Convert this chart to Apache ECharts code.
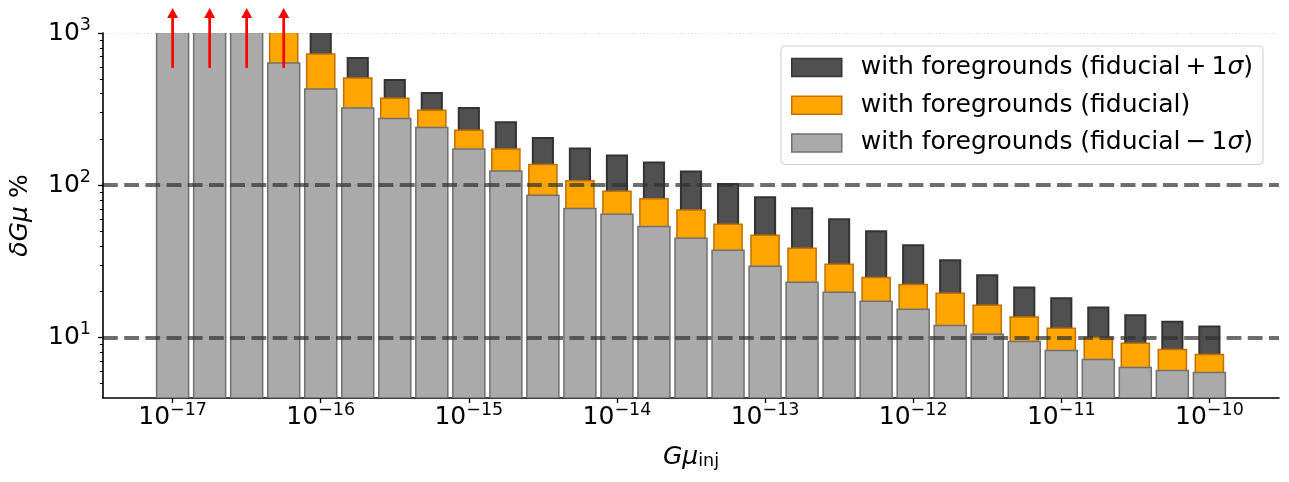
<!DOCTYPE html>
<html>
<head>
<meta charset="utf-8">
<script src="https://cdn.jsdelivr.net/npm/echarts@6/dist/echarts.min.js"></script>
<style>
html, body { margin: 0; padding: 0; background: #fff; }
#chart { width: 1289px; height: 482px; }
</style>
</head>
<body>
<div id="chart"></div>
<script>
// log10(G mu_inj) of each bar group
const gmuExp = [-17, -16.75, -16.5, -16.25, -16, -15.75, -15.5, -15.25, -15, -14.75,
  -14.5, -14.25, -14, -13.75, -13.5, -13.25, -13, -12.75, -12.5, -12.25,
  -12, -11.75, -11.5, -11.25, -11, -10.75, -10.5, -10.25, -10]

// delta G mu in %, the first bars run off the top
const plusSigma = [2400, 2200, 2000, 1600, 1050, 685, 491, 403, 321, 259,
  204, 174, 157, 141, 123, 102, 83.4, 70.6, 59.7, 49.8,
  40.3, 32.1, 25.6, 21.3, 18.1, 15.7, 14.0, 12.7, 11.8]
const fiducial = [1900, 1700, 1500, 1100, 728, 506, 373, 311, 230, 173,
  137, 107, 91.4, 81.6, 68.7, 55.4, 46.9, 38.5, 30.2, 24.8,
  22.3, 19.5, 16.3, 13.6, 11.5, 10.0, 9.14, 8.34, 7.73]
const minusSigma = [1500, 1300, 1150, 635, 428, 321, 274, 239, 173, 124,
  86, 70.2, 64.4, 53.5, 44.8, 37.4, 29.3, 23.0, 19.8, 17.3,
  15.3, 12.0, 10.5, 9.42, 8.20, 7.16, 6.35, 6.07, 5.89]

// red arrows on the bars that leave the plot
const arrowExp = [-17, -16.75, -16.5, -16.25]
const arrowFrom = [590, 590, 590, 590]
const arrowTo = [1460, 1460, 1460, 1460]

const xTicks = [-17, -16, -15, -14, -13, -12, -11, -10]
const yMinorTicks = [5, 6, 7, 8, 9, 20, 30, 40, 50, 60, 70, 80, 90,
  200, 300, 400, 500, 600, 700, 800, 900]
const refLines = [100, 10]

const names = [
  'with foregrounds (fiducial\u2009+\u20091σ)',
  'with foregrounds (fiducial)',
  'with foregrounds (fiducial\u2009−\u20091σ)'
]

const FONT = 'DejaVu Sans'
const supRich = {
  b: { fontFamily: FONT, fontSize: 25, lineHeight: 33, color: '#000' },
  s: { fontFamily: FONT, fontSize: 17.5, lineHeight: 17.5, color: '#000', verticalAlign: 'top' }
}

// bar drawn from the bottom of the grid up to the value
function barItem(half, fill, stroke, lw) {
  return function (params, api) {
    const x = api.value(0)
    const v = api.value(1)
    const p1 = api.coord([x - half, v])
    const p2 = api.coord([x + half, v])
    const bottom = params.coordSys.y + params.coordSys.height
    return {
      type: 'rect',
      shape: { x: p1[0], y: p1[1], width: p2[0] - p1[0], height: bottom - p1[1] },
      style: { fill: fill, stroke: stroke, lineWidth: lw }
    }
  }
}

const chart = echarts.init(document.getElementById('chart'))
chart.setOption({
  animation: false,
  grid: { left: 103, right: 10, top: 33, bottom: 84, containLabel: false, outerBoundsMode: 'none' },
  legend: {
    left: 781,
    top: 46,
    orient: 'vertical',
    padding: [9, 10, 9, 10],
    itemWidth: 50,
    itemHeight: 18,
    itemGap: 12.7,
    backgroundColor: 'rgba(255,255,255,0.8)',
    borderColor: '#cccccc',
    borderWidth: 1,
    borderRadius: 4,
    textStyle: {
      fontFamily: FONT, fontSize: 25, lineHeight: 25, color: '#000', padding: [0, 0, 0, 14],
      rich: { i: { fontFamily: FONT, fontSize: 25, fontStyle: 'italic', color: '#000' } }
    },
    formatter: (name) => name.replace('σ', '{i|σ}'),
    data: [
      { name: names[0], icon: 'rect', itemStyle: { color: '#505050', borderColor: '#333333', borderWidth: 1.5 } },
      { name: names[1], icon: 'rect', itemStyle: { color: '#ffa500', borderColor: '#c07000', borderWidth: 1.5 } },
      { name: names[2], icon: 'rect', itemStyle: { color: '#aaaaaa', borderColor: '#707070', borderWidth: 1.5 } }
    ]
  },
  xAxis: {
    type: 'value',
    min: -17.47,
    max: -9.53,
    name: '{i|Gμ}{sub|inj}',
    nameLocation: 'middle',
    nameGap: 47,
    nameTextStyle: {
      rich: {
        i: { fontFamily: FONT, fontSize: 25, lineHeight: 25, fontStyle: 'italic', color: '#000' },
        sub: { fontFamily: FONT, fontSize: 17.5, lineHeight: 17.5, color: '#000', verticalAlign: 'bottom' }
      }
    },
    axisLine: { lineStyle: { color: '#000', width: 1.6 } },
    axisTick: { customValues: xTicks, length: 5, lineStyle: { color: '#000', width: 1.3 } },
    axisLabel: {
      customValues: xTicks,
      margin: 3,
      formatter: (v) => '{b|10}{s|−' + Math.round(-v) + '}',
      rich: supRich
    },
    splitLine: { show: false }
  },
  yAxis: [
    {
      type: 'log',
      logBase: 10,
      min: 4,
      max: 1000,
      z: 10,
      name: '{i|δGμ} %',
      nameLocation: 'middle',
      nameGap: 70,
      nameRotate: 90,
      nameTextStyle: {
        fontFamily: FONT, fontSize: 25, color: '#000',
        rich: { i: { fontFamily: FONT, fontSize: 25, fontStyle: 'italic', color: '#000' } }
      },
      axisLine: { show: true, lineStyle: { color: '#000', width: 1.6 } },
      axisTick: { length: 5, lineStyle: { color: '#000', width: 1.3 } },
      axisLabel: {
        showMinLabel: false,
        margin: 12,
        formatter: (v) => '{b|10}{s|' + Math.round(Math.log10(v)) + '}',
        rich: supRich
      },
      splitLine: { show: true, lineStyle: { color: 'rgba(0,0,0,0.16)', width: 1, type: [1.2, 2.5] } }
    },
    {
      // only carries the log minor ticks
      type: 'value',
      position: 'left',
      min: Math.log10(4),
      max: 3,
      axisLine: { show: false },
      axisLabel: { show: false },
      splitLine: { show: false },
      axisTick: {
        show: true,
        customValues: yMinorTicks.map(v => Math.log10(v)),
        length: 3,
        lineStyle: { color: '#000', width: 1 }
      }
    }
  ],
  series: [
    {
      name: names[0],
      type: 'custom',
      z: 2,
      clip: true,
      renderItem: barItem(0.068, '#505050', '#333333', 2),
      encode: { x: 0, y: 1 },
      data: gmuExp.map((x, i) => [x, plusSigma[i]])
    },
    {
      name: names[1],
      type: 'custom',
      z: 3,
      clip: true,
      renderItem: barItem(0.095, '#ffa500', '#c07000', 1.5),
      encode: { x: 0, y: 1 },
      data: gmuExp.map((x, i) => [x, fiducial[i]])
    },
    {
      name: names[2],
      type: 'custom',
      z: 4,
      clip: true,
      renderItem: barItem(0.108, '#aaaaaa', '#707070', 1.5),
      encode: { x: 0, y: 1 },
      data: gmuExp.map((x, i) => [x, minusSigma[i]]),
      markLine: {
        silent: true,
        symbol: 'none',
        z: 5,
        label: { show: false },
        lineStyle: { color: 'rgba(50,50,50,0.7)', width: 4, type: [14.8, 6.4] },
        data: refLines.map(v => ({ yAxis: v }))
      }
    },
    {
      name: 'arrows',
      type: 'custom',
      z: 6,
      clip: false,
      encode: { x: 0, y: [1, 2] },
      data: arrowExp.map((x, i) => [x, arrowFrom[i], arrowTo[i]]),
      renderItem: function (params, api) {
        const p0 = api.coord([api.value(0), api.value(1)])
        const p1 = api.coord([api.value(0), api.value(2)])
        const head = 10
        const hw = 5.5
        return {
          type: 'group',
          children: [
            { type: 'line', shape: { x1: p0[0], y1: p0[1], x2: p1[0], y2: p1[1] + head },
              style: { stroke: '#ff0000', lineWidth: 2.7 } },
            { type: 'polygon', shape: { points: [[p1[0], p1[1]], [p1[0] - hw, p1[1] + head], [p1[0] + hw, p1[1] + head]] },
              style: { fill: '#ff0000' } }
          ]
        }
      }
    }
  ]
})
</script>
</body>
</html>
